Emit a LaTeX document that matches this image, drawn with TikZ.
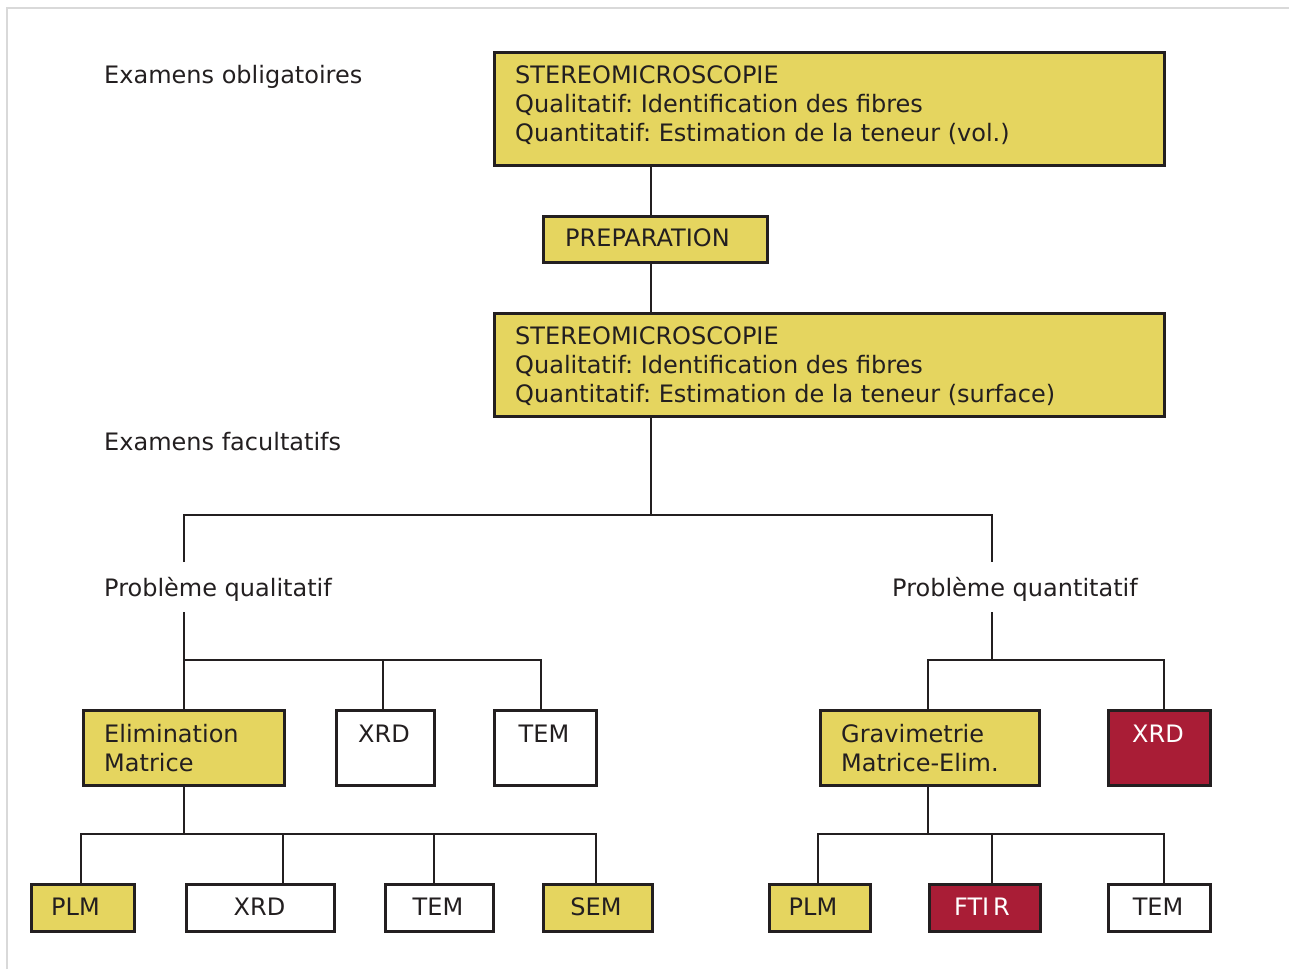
\documentclass[tikz,border=0pt]{standalone}
\usepackage{fontspec}
\setmainfont{DejaVu Sans}
\frenchspacing
\definecolor{ylw}{HTML}{E5D55F}
\definecolor{rd}{HTML}{A91D36}
\definecolor{ink}{HTML}{231F20}
\definecolor{framegray}{HTML}{D9D9D9}
\begin{document}
\begin{tikzpicture}[x=1pt,y=-1pt,
  every node/.style={font=\fontsize{24}{29}\selectfont, text=ink},
  box/.style={draw=ink, line width=2.8pt, inner sep=0pt, anchor=north west},
  ybox/.style={box, fill=ylw},
  wbox/.style={box, fill=white},
  rbox/.style={box, fill=rd},
  conn/.style={draw=ink, line width=2.5pt},
  txt/.style={inner sep=0pt, anchor=base west},
  ctxt/.style={inner sep=0pt, anchor=base},
  mtxt/.style={inner sep=0pt, anchor=north west, align=left},
]
\useasboundingbox (0,0) rectangle (1289,969);
\draw[framegray, line width=2pt] (7,969) -- (7,8) -- (1289,8);

% headings
\node[txt] (hobl) at (104,83) {Examens obligatoires};
\node[txt] (hfac) at (104,450.6) {Examens facultatifs};
\node[txt] (pql) at (104,596.6) {Problème qualitatif};
\node[txt] (pqt) at (892,596.6) {Problème quantitatif};

% boxes
\node[ybox, minimum width=670, minimum height=113] (b1) at (493,51) {};
\node[mtxt] (b1t) at (515,63) {\rule{0pt}{20pt}STEREOMICROSCOPIE\\Qualitatif: Identification des fibres\\Quantitatif: Estimation de la teneur (vol.)};

\node[ybox, minimum width=224, minimum height=46] (prep) at (542,215) {};
\node[txt] (prept) at (565,246.6) {PREPARATION};

\node[ybox, minimum width=670, minimum height=103] (b2) at (493,312) {};
\node[mtxt] (b2t) at (515,324.6) {\rule{0pt}{20pt}STEREOMICROSCOPIE\\Qualitatif: Identification des fibres\\Quantitatif: Estimation de la teneur (surface)};

% middle row
\node[ybox, minimum width=201, minimum height=75] (elim) at (82,709) {};
\node[mtxt] (elimt) at (104,722.6) {\rule{0pt}{20pt}Elimination\\Matrice};
\node[wbox, minimum width=98, minimum height=75] (xrd1) at (335,709) {};
\node[ctxt] (xrd1t) at (384,742.6) {XRD};
\node[wbox, minimum width=102, minimum height=75] (tem1) at (493,709) {};
\node[ctxt] (tem1t) at (544,742.6) {TEM};

\node[ybox, minimum width=219, minimum height=75] (grav) at (819,709) {};
\node[mtxt] (gravt) at (841,722.6) {\rule{0pt}{20pt}Gravimetrie\\Matrice-Elim.};
\node[rbox, minimum width=102, minimum height=75] (xrdr) at (1107,709) {};
\node[ctxt, text=white] (xrdrt) at (1158,742.6) {XRD};

% bottom row
\node[ybox, minimum width=103, minimum height=47] (plm1) at (30,883) {};
\node[ctxt] (plm1t) at (75.5,915.1) {PLM};
\node[wbox, minimum width=148, minimum height=47] (xrd2) at (185,883) {};
\node[ctxt] (xrd2t) at (259.5,915.1) {XRD};
\node[wbox, minimum width=108, minimum height=47] (tem2) at (384,883) {};
\node[ctxt] (tem2t) at (438,915.1) {TEM};
\node[ybox, minimum width=109, minimum height=47] (sem) at (542,883) {};
\node[ctxt] (semt) at (596,915.1) {SEM};

\node[ybox, minimum width=101, minimum height=47] (plm2) at (768,883) {};
\node[ctxt] (plm2t) at (813,915.1) {PLM};
\node[rbox, minimum width=111, minimum height=47] (ftir) at (928,883) {};
\node[ctxt, text=white] (ftirt) at (982,915.1) {FTI\kern4pt R};
\node[wbox, minimum width=102, minimum height=47] (tem3) at (1107,883) {};
\node[ctxt] (tem3t) at (1158,915.1) {TEM};

% junction coordinates
\coordinate (j0) at (651,515);
\coordinate (qL) at (184,515);
\coordinate (qR) at (992,515);
\coordinate (qLe) at (184,562);
\coordinate (qRe) at (992,562);
\coordinate (qLs) at (184,612);
\coordinate (qRs) at (992,612);
\coordinate (hL) at (184,660);
\coordinate (t1j) at (541,660);
\coordinate (x1j) at (383,660);
\coordinate (hR) at (992,660);
\coordinate (gj) at (928,660);
\coordinate (xrj) at (1164,660);
\coordinate (bL) at (184,834);
\coordinate (bL1) at (81,834);
\coordinate (bL2) at (283,834);
\coordinate (bL3) at (434,834);
\coordinate (bL4) at (596,834);
\coordinate (bR) at (928,834);
\coordinate (bR1) at (818,834);
\coordinate (bR2) at (992,834);
\coordinate (bR3) at (1164,834);

% connectors
\draw[conn] (b1.south -| j0) -- (prep.north -| j0);
\draw[conn] (prep.south -| j0) -- (b2.north -| j0);
\draw[conn] (b2.south -| j0) -- (j0);
\draw[conn] (qLe) -- (qL) -- (qR) -- (qRe);

\draw[conn] (qLs) -- (elim.north -| qLs);
\draw[conn] (hL) -- (t1j) -- (tem1.north -| t1j);
\draw[conn] (x1j) -- (xrd1.north -| x1j);

\draw[conn] (qRs) -- (hR);
\draw[conn] (grav.north -| gj) -- (gj) -- (xrj) -- (xrdr.north -| xrj);

\draw[conn] (elim.south -| bL) -- (bL);
\draw[conn] (plm1.north -| bL1) -- (bL1) -- (bL4) -- (sem.north -| bL4);
\draw[conn] (bL2) -- (xrd2.north -| bL2);
\draw[conn] (bL3) -- (tem2.north -| bL3);

\draw[conn] (grav.south -| bR) -- (bR);
\draw[conn] (plm2.north -| bR1) -- (bR1) -- (bR3) -- (tem3.north -| bR3);
\draw[conn] (bR2) -- (ftir.north -| bR2);
\end{tikzpicture}
\end{document}
